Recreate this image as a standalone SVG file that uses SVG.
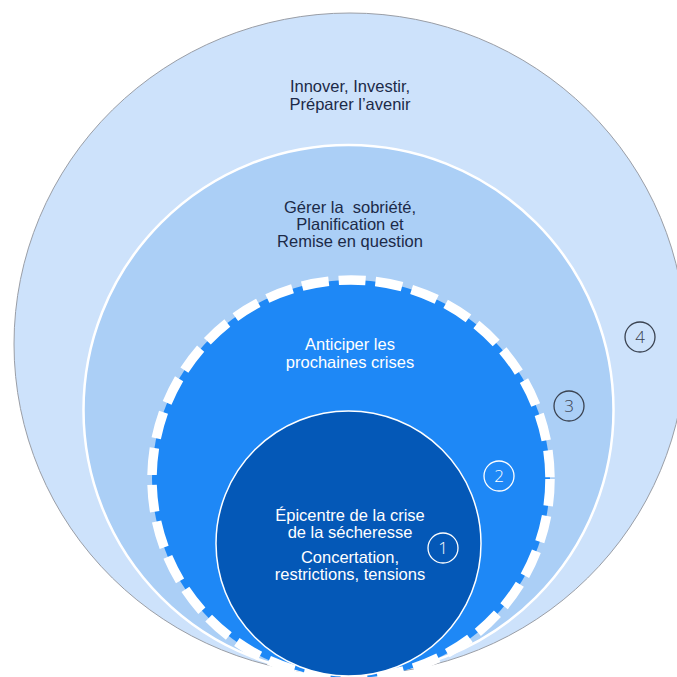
<svg xmlns="http://www.w3.org/2000/svg" width="677" height="677" viewBox="0 0 677 677">
<style>
.lbl{font-family:"Liberation Sans",Arial,sans-serif;font-size:16.5px;text-anchor:middle}
.dark{fill:#1c2a48}
.light{fill:#ffffff}
.num{font-family:"Open Sans","Liberation Sans",sans-serif;font-size:17px;text-anchor:middle;font-weight:300}
.bd{fill:none;stroke:#3a4250;stroke-width:1.3}
.bl{fill:none;stroke:#ffffff;stroke-width:1.3}
</style>
<rect width="677" height="677" fill="#ffffff"/>
<g id="ring4">
<ellipse cx="350" cy="344" rx="336" ry="331" fill="#cde2fb" stroke="#9a9ea6" stroke-width="1"/>
<text class="lbl dark" x="350" y="92">Innover, Investir,</text>
<text class="lbl dark" x="350" y="110">Préparer l’avenir</text>
<circle class="bd" cx="640" cy="337" r="15"/>
<text class="num" x="640" y="343" fill="#3a4250">4</text>
</g>
<g id="ring3">
<circle cx="348.5" cy="410" r="265" fill="#abcff6" stroke="#ffffff" stroke-width="2.5"/>
<text class="lbl dark" x="350" y="213">Gérer la&#160; sobriété,</text>
<text class="lbl dark" x="350" y="230">Planification et</text>
<text class="lbl dark" x="350" y="247">Remise en question</text>
<circle class="bd" cx="569" cy="406" r="15"/>
<text class="num" x="569" y="412" fill="#3a4250">3</text>
</g>
<g id="ring2">
<circle cx="351" cy="479" r="199" fill="#1e88f6"/>
<circle cx="351" cy="479" r="199" fill="none" stroke="#ffffff" stroke-width="9.5" stroke-dasharray="27 10"/>
<text class="lbl light" x="350" y="350">Anticiper les</text>
<text class="lbl light" x="350" y="368">prochaines crises</text>
<circle class="bl" cx="499" cy="476" r="15"/>
<text class="num light" x="499" y="482">2</text>
</g>
<g id="ring1">
<circle cx="348.5" cy="543.5" r="132.5" fill="#0458b7" stroke="#ffffff" stroke-width="1.5"/>
<text class="lbl light" x="350" y="521">Épicentre de la crise</text>
<text class="lbl light" x="350" y="538">de la sécheresse</text>
<text class="lbl light" x="350" y="563">Concertation,</text>
<text class="lbl light" x="350" y="580">restrictions, tensions</text>
<circle class="bl" cx="443" cy="548" r="15"/>
<text class="num light" x="443" y="554">1</text>
</g>
<g id="connectors"></g>
</svg>
